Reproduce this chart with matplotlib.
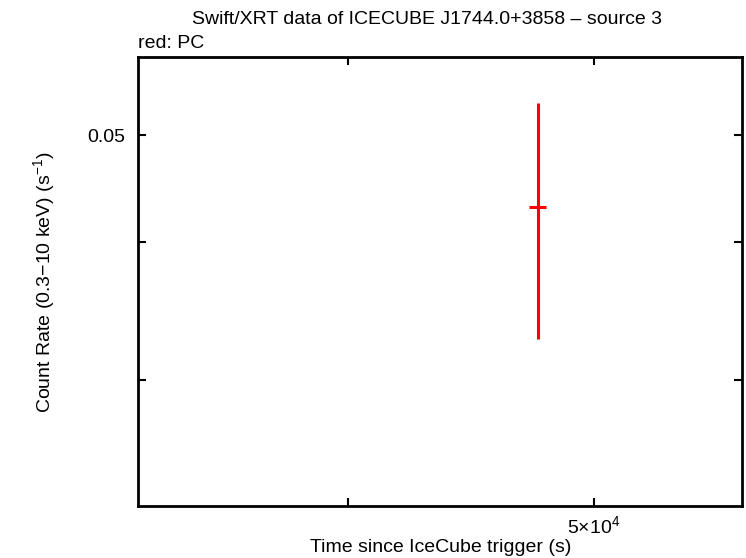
import numpy as np
import matplotlib
matplotlib.use('Agg')
import matplotlib.pyplot as plt
from matplotlib.ticker import FixedLocator, NullLocator

#==============================================================================
# Data
#==============================================================================
time = [47530.0]
time_lo = [390.0]
time_hi = [330.0]
rate = [0.0431]
rate_lo = [0.0104]
rate_hi = [0.0104]

xticks = [4e4, 5e4]
xticklabels = ['', r'5$\times$10$^4$']
yticks = [0.03, 0.04, 0.05]
yticklabels = ['', '', '0.05']

#==============================================================================
# Plot
#==============================================================================
plt.rcParams['font.family'] = ['Liberation Sans', 'DejaVu Sans']
plt.rcParams['mathtext.fontset'] = 'custom'
plt.rcParams['mathtext.rm'] = 'Liberation Sans'

W, H = 746, 558
fig = plt.figure(figsize=(W/100, H/100), dpi=100)
ax = fig.add_axes([138/W, 1-506/H, (742-138)/W, (506-57)/H])

ax.errorbar(time, rate, xerr=[time_lo, time_hi], yerr=[rate_lo, rate_hi],
            fmt='none', ecolor='#ff0000', elinewidth=2.2, capsize=0)

ax.set_xscale('log')
ax.set_yscale('log')
ax.set_xlim(33070, 57190)
ax.set_ylim(0.02307, 0.0589)

ax.xaxis.set_major_locator(FixedLocator(xticks))
ax.xaxis.set_minor_locator(NullLocator())
ax.set_xticklabels(xticklabels)
ax.yaxis.set_major_locator(FixedLocator(yticks))
ax.yaxis.set_minor_locator(NullLocator())
ax.set_yticklabels(yticklabels)

ax.tick_params(which='both', direction='in', length=6, width=1.5,
               top=True, right=True, labelsize=14)
ax.tick_params(axis='y', pad=9)
ax.tick_params(axis='x', pad=7)
for s in ax.spines.values():
    s.set_linewidth(2)

fs = 14
fig.text(441/W, 1-547/H, 'Time since IceCube trigger (s)',
         ha='center', va='center', fontsize=fs)
fig.text(45/W, 1-282/H, 'Count Rate (0.3$-$10 keV) (s$^{-1}$)',
         ha='center', va='center', rotation=90, fontsize=fs)
fig.text(427/W, 1-20/H, 'Swift/XRT data of ICECUBE J1744.0+3858 \u2013 source 3',
         ha='center', va='center', fontsize=fs)
fig.text(138/W, 1-44/H, 'red: PC', ha='left', va='center', fontsize=fs)

fig.savefig('out.png', dpi=100)
